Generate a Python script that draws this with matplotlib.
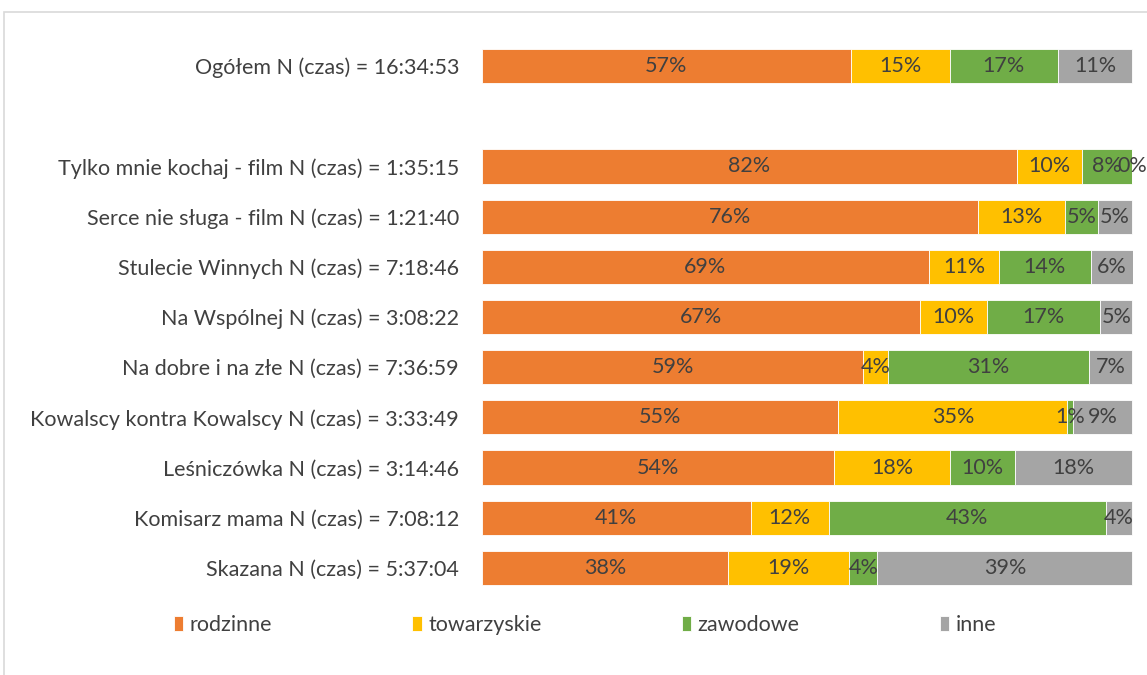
import matplotlib.pyplot as plt
from matplotlib.patches import Rectangle

plt.rcParams['font.family'] = ['Lato', 'DejaVu Sans']

categories = [
    "Ogółem N (czas) = 16:34:53",
    "Tylko mnie kochaj - film N (czas) = 1:35:15",
    "Serce nie sługa - film N (czas) = 1:21:40",
    "Stulecie Winnych N (czas) = 7:18:46",
    "Na Wspólnej N (czas) = 3:08:22",
    "Na dobre i na złe N (czas) = 7:36:59",
    "Kowalscy kontra Kowalscy N (czas) = 3:33:49",
    "Leśniczówka N (czas) = 3:14:46",
    "Komisarz mama N (czas) = 7:08:12",
    "Skazana N (czas) = 5:37:04",
]
series = ["rodzinne", "towarzyskie", "zawodowe", "inne"]
rodzinne = [56.7, 82.2, 76.3, 68.7, 67.3, 58.6, 54.8, 54.2, 41.3, 37.8]
towarzyskie = [15.2, 10.1, 13.4, 10.8, 10.4, 3.8, 35.2, 17.8, 12.0, 18.7]
zawodowe = [16.7, 7.7, 5.0, 14.1, 17.4, 30.9, 0.9, 10.0, 42.6, 4.3]
inne = [11.4, 0.0, 5.3, 6.5, 4.9, 6.7, 9.1, 18.0, 4.1, 39.2]
colors = ["#ED7D31", "#FFC000", "#70AD47", "#A5A5A5"]

# empty row between "Ogółem" and the rest
ypos = [0] + [i + 2 for i in range(len(categories) - 1)]

fig = plt.figure(figsize=(11.47, 6.75), dpi=100)
fig.patches.append(Rectangle((4 / 1147, -0.1), 1.2, 1 - 12 / 675 + 0.1,
                             transform=fig.transFigure, fill=False,
                             edgecolor="#d9d9d9", linewidth=1.2))
ax = fig.add_axes([482 / 1147, 1 - 593 / 675, (1133 - 482) / 1147, 552 / 675])

txt = "#404040"
fs = 15.5
left = [0] * len(categories)
for name, vals, c in zip(series, [rodzinne, towarzyskie, zawodowe, inne], colors):
    ax.barh(ypos, vals, left=left, height=0.68, color=c, label=name,
            edgecolor="white", linewidth=0.6)
    for y, v, l in zip(ypos, vals, left):
        ax.text(l + v / 2, y, f"{round(v)}%", ha="center", va="center",
                fontsize=fs, color=txt)
    left = [a + b for a, b in zip(left, vals)]

ax.set_xlim(0, max(left))
ax.set_ylim(10.5, -0.5)
ax.set_yticks(ypos)
ax.set_yticklabels(categories, fontsize=fs, color=txt)
ax.tick_params(axis="y", length=0, pad=16.5)
ax.set_xticks([])
for s in ax.spines.values():
    s.set_visible(False)

fig.legend(loc="center", bbox_to_anchor=(0.51, 1 - 625 / 675), ncol=4,
           frameon=False, fontsize=fs, labelcolor=txt, handlelength=0.45,
           handleheight=0.7, handletextpad=0.3, columnspacing=6.5)

fig.savefig("out.png", dpi=100)
